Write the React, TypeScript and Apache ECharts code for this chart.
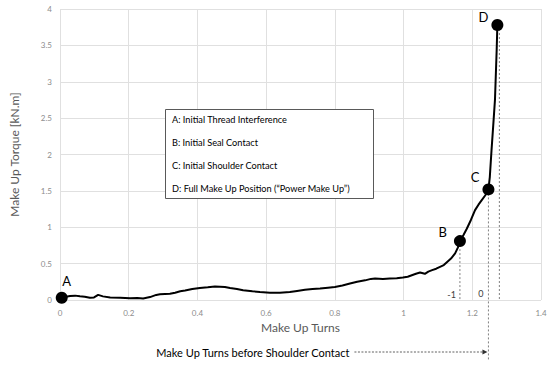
import React, { useEffect, useRef } from "react";
import * as echarts from "echarts";

const curveX = [0.005, 0.018, 0.029, 0.044, 0.058, 0.072, 0.087, 0.099, 0.111, 0.125, 0.146, 0.175, 0.204, 0.225, 0.242, 0.262, 0.28, 0.291, 0.32, 0.335, 0.35, 0.364, 0.385, 0.407, 0.43, 0.451, 0.48, 0.495, 0.515, 0.533, 0.56, 0.582, 0.611, 0.64, 0.669, 0.69, 0.713, 0.735, 0.757, 0.78, 0.8, 0.822, 0.844, 0.865, 0.888, 0.905, 0.917, 0.94, 0.96, 0.98, 0.998, 1.012, 1.024, 1.036, 1.048, 1.062, 1.072, 1.083, 1.095, 1.106, 1.117, 1.126, 1.138, 1.15, 1.158, 1.164, 1.174, 1.184, 1.196, 1.208, 1.218, 1.227, 1.238, 1.247, 1.251, 1.256, 1.261, 1.266, 1.271, 1.273];
const curveY = [0.03, 0.045, 0.055, 0.06, 0.05, 0.045, 0.03, 0.035, 0.07, 0.05, 0.033, 0.03, 0.025, 0.028, 0.02, 0.04, 0.07, 0.08, 0.085, 0.1, 0.12, 0.13, 0.15, 0.165, 0.175, 0.185, 0.18, 0.165, 0.15, 0.134, 0.12, 0.11, 0.1, 0.1, 0.11, 0.125, 0.14, 0.15, 0.157, 0.17, 0.18, 0.2, 0.226, 0.25, 0.27, 0.29, 0.295, 0.29, 0.295, 0.3, 0.31, 0.32, 0.34, 0.36, 0.377, 0.36, 0.39, 0.41, 0.43, 0.455, 0.48, 0.52, 0.57, 0.64, 0.72, 0.81, 0.89, 0.98, 1.1, 1.235, 1.31, 1.37, 1.44, 1.52, 1.69, 2.06, 2.4, 2.75, 3.44, 3.78];

const pointNames = ["A", "B", "C", "D"];
const pointX = [0.005, 1.164, 1.247, 1.273];
const pointY = [0.03, 0.81, 1.52, 3.78];

const legendLines = [
  "A: Initial Thread Interference",
  "B: Initial Seal Contact",
  "C: Initial Shoulder Contact",
  "D: Full Make Up Position (\u201cPower Make Up\u201d)",
];

const xAxisName = "Make Up Turns";
const yAxisName = "Make Up Torque [kN.m]";
const arrowText = "Make Up Turns before Shoulder Contact";
const dropLabels = ["-1", "0"];

const FONT = "Lato";

export default function App() {
  const ref = useRef<HTMLDivElement>(null);
  useEffect(() => {
    if (!ref.current) return;
    const chart = echarts.init(ref.current, null, { renderer: "svg" });
    const labelPos: any[] = [
      { position: "top", offset: [5, 1] },
      { position: "left", offset: [-2, -9] },
      { position: "left", offset: [2, -12] },
      { position: "left", offset: [2, -8] },
    ];
    chart.setOption({
      animation: false,
      textStyle: { fontFamily: FONT },
      grid: { left: 60, right: 9, top: 9, bottom: 66 },
      xAxis: {
        type: "value",
        min: 0,
        max: 1.4,
        interval: 0.2,
        name: xAxisName,
        nameLocation: "middle",
        nameGap: 20,
        nameTextStyle: { color: "#595959", fontSize: 12, fontFamily: FONT },
        axisLine: { show: false },
        axisTick: { show: false },
        axisLabel: { color: "#8c8c8c", fontSize: 8, margin: 9, formatter: (v: number) => String(Math.round(v * 10) / 10) },
        splitLine: { show: true, lineStyle: { color: "#e0e0e0", width: 1 } },
      },
      yAxis: {
        type: "value",
        min: 0,
        max: 4,
        interval: 0.5,
        name: yAxisName,
        nameLocation: "middle",
        nameGap: 40,
        nameTextStyle: { color: "#595959", fontSize: 12, fontFamily: FONT },
        axisLine: { show: false },
        axisTick: { show: false },
        axisLabel: { color: "#8c8c8c", fontSize: 8, margin: 8 },
        splitLine: { show: true, lineStyle: { color: "#e0e0e0", width: 1 } },
      },
      series: [
        {
          type: "line",
          data: curveX.map((x, i) => [x, curveY[i]]),
          showSymbol: false,
          symbol: "none",
          lineStyle: { color: "#000", width: 2 },
          z: 3,
        },
        {
          type: "scatter",
          data: pointX.map((x, i) => ({
            value: [x, pointY[i]],
            name: pointNames[i],
            label: { show: true, formatter: pointNames[i], ...labelPos[i] },
          })),
          symbolSize: 12,
          itemStyle: { color: "#000", opacity: 1 },
          label: { color: "#000", fontSize: 13, fontFamily: FONT },
          z: 5,
        },
      ],
    });

    const px = (x: number, y: number) => chart.convertToPixel({ gridIndex: 0 }, [x, y]) as number[];
    const dotted = { stroke: "#808080", lineWidth: 1, lineDash: [2, 2] };
    const graphics: any[] = [];
    const b = px(pointX[1], pointY[1]);
    const b0 = px(pointX[1], 0);
    const c = px(pointX[2], pointY[2]);
    const c0 = px(pointX[2], 0);
    const d = px(pointX[3], pointY[3]);
    const d0 = px(pointX[3], 0);
    graphics.push({ type: "line", shape: { x1: b[0], y1: b[1], x2: b0[0], y2: b0[1] }, style: dotted, z: 2 });
    graphics.push({ type: "line", shape: { x1: c[0], y1: c[1], x2: c0[0], y2: c0[1] + 61 }, style: dotted, z: 2 });
    graphics.push({ type: "line", shape: { x1: d[0] + 2, y1: d[1], x2: d0[0] + 2, y2: d0[1] }, style: dotted, z: 2 });
    graphics.push({ type: "text", x: b0[0] - 4, y: b0[1] - 6, style: { text: dropLabels[0], fill: "#404040", fontSize: 9, fontFamily: FONT, textAlign: "right", textVerticalAlign: "middle" } });
    graphics.push({ type: "text", x: c0[0] - 5, y: c0[1] - 7, style: { text: dropLabels[1], fill: "#404040", fontSize: 9, fontFamily: FONT, textAlign: "right", textVerticalAlign: "middle" } });
    const ay = c0[1] + 52;
    graphics.push({ type: "line", shape: { x1: c0[0] - 134, y1: ay, x2: c0[0] - 4, y2: ay }, style: { stroke: "#606060", lineWidth: 1, lineDash: [2, 1.5] } });
    graphics.push({ type: "polygon", shape: { points: [[c0[0] - 1, ay], [c0[0] - 6, ay - 2.5], [c0[0] - 6, ay + 2.5]] }, style: { fill: "#303030" } });
    graphics.push({ type: "text", x: c0[0] - 139, y: ay, style: { text: arrowText, fill: "#000", fontSize: 11, fontFamily: FONT, textAlign: "right", textVerticalAlign: "middle" } });
    graphics.push({ type: "rect", shape: { x: 165.5, y: 109.5, width: 208, height: 89 }, style: { fill: "#fff", stroke: "#595959", lineWidth: 1 }, z: 10 });
    legendLines.forEach((t, i) => {
      graphics.push({ type: "text", x: 172, y: 119 + i * 23.3, style: { text: t, fill: "#000", fontSize: 9.2, fontFamily: FONT, textVerticalAlign: "middle" }, z: 11 });
    });
    chart.setOption({ graphic: graphics });
    return () => chart.dispose();
  }, []);
  return <div ref={ref} style={{ width: 550, height: 366, position: "absolute", left: 0, top: 0 }} />;
}
